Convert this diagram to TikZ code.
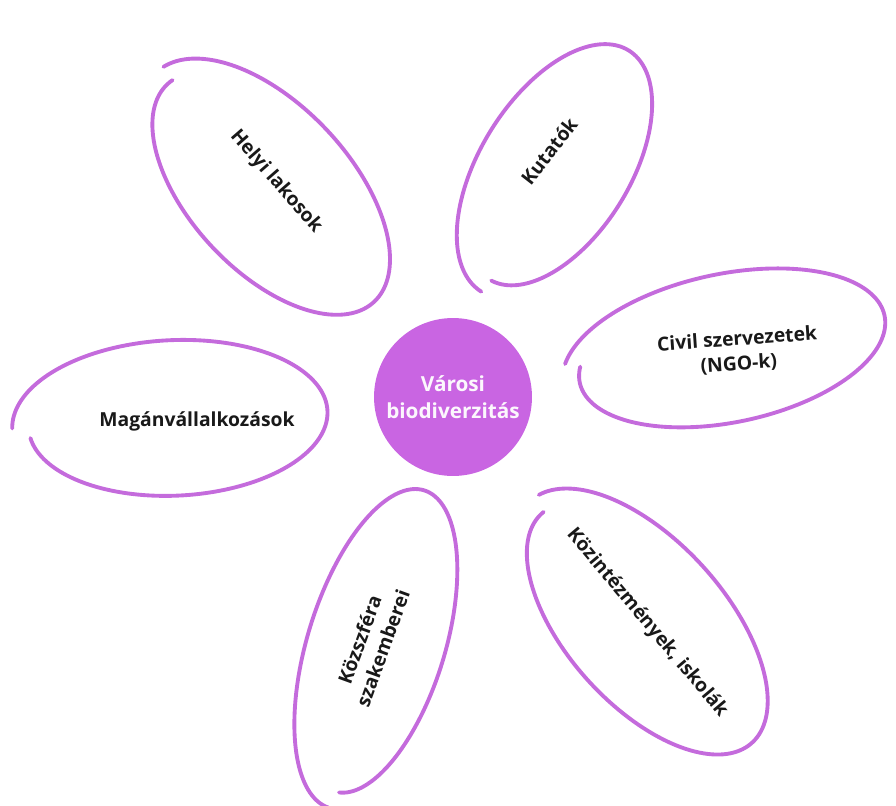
\documentclass[tikz,border=0pt]{standalone}
\usepackage{fontspec}
\setmainfont{Open Sans}
\usepackage{tikz}
\usepackage{xcolor}
\usetikzlibrary{positioning,calc}

\definecolor{petalpurple}{HTML}{C46BDC}
\definecolor{hubpurple}{HTML}{C965E2}

% open, hand-drawn looking loop: centre x, centre y, rotation, semi-axes a and b, start angle, sweep
\newcommand{\petal}[7]{%
  \draw[petal, shift={(#1,#2)}, rotate=#3]
    plot[domain=0:1, samples=160, smooth, variable=\t]
    ({(1-0.1*\t)*#4*cos(#6-#7*\t)}, {(1-0.1*\t)*#5*sin(#6-#7*\t)});}

\begin{document}
\begin{tikzpicture}[
    x=0.02cm, y=0.02cm,
    petal/.style={draw=petalpurple, line width=2.2pt, line cap=round},
    hub/.style={circle, fill=hubpurple, minimum size=3.16cm, text=white!95!hubpurple, align=center, font=\fontsize{11.8}{15}\selectfont\bfseries},
    label/.style={align=center, text=black!90, font=\fontsize{11}{14}\selectfont\bfseries}
]
    \useasboundingbox (0,0) rectangle (896,-805);

    % petals
    \petal{268}{-190}{-47}{162}{86}{175}{359}
    \petal{557}{-168}{58}{145}{78}{181}{358}
    \petal{728}{-350}{12}{168}{78}{165}{357}
    \petal{174}{-420}{3}{162}{82}{180}{352}
    \petal{378}{-645}{73}{170}{72}{180}{355}
    \petal{644}{-625}{-48}{168}{85}{174}{355}

    % centre of the flower
    \node[hub] (hub) at (453,-397) {Városi\\biodiverzitás};

    % stakeholders
    \node[label, rotate=-49] (lakosok) at (276,-182) {Helyi lakosok};
    \node[label, rotate=52] (kutatok) at (549,-151) {Kutatók};
    \node[label, rotate=4] (ngo) at (738,-352) {Civil szervezetek\\(NGO-k)};
    \node[label] (vallalkozasok) at (197,-421) {Magánvállalkozások};
    \node[label, rotate=70] (kozszfera) at (371,-644) {Közszféra\\szakemberei};
    \node[label, rotate=-50] (intezmenyek) at (647,-623) {Közintézmények, iskolák};
\end{tikzpicture}
\end{document}
